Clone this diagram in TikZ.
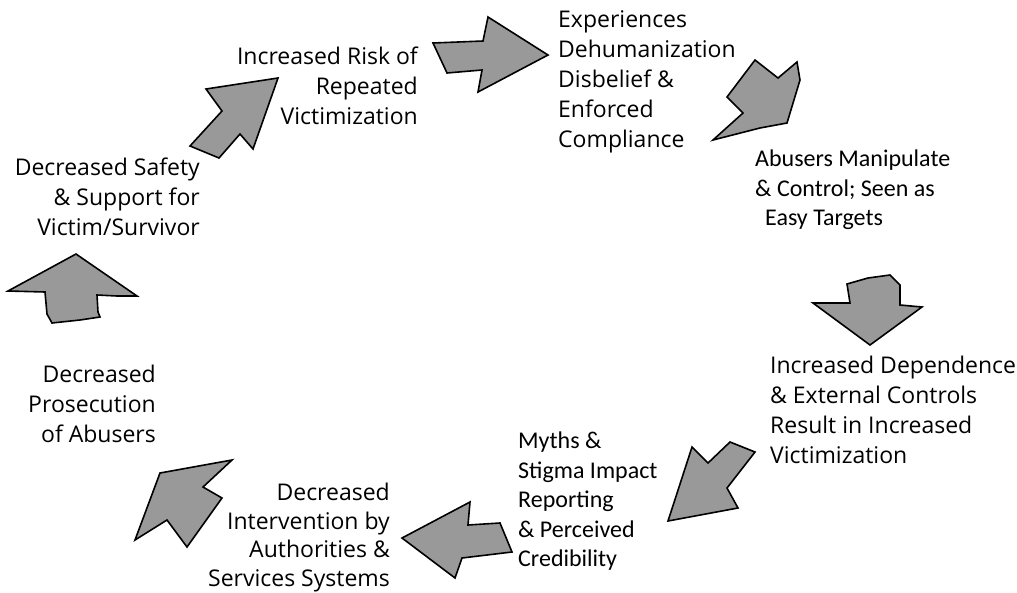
\documentclass[tikz,border=0pt]{standalone}
\usepackage{fontspec}
\setmainfont{Open Sans}
\newfontfamily\calib{Carlito}
\definecolor{arrgray}{RGB}{153,153,153}
\begin{document}
\begin{tikzpicture}[x=1pt,y=-1pt,
  arr/.style={draw=black, fill=arrgray, line width=1.6pt, line join=miter},
  lbl/.style={inner sep=0pt, font=\fontsize{23}{30}\selectfont},
  lblc/.style={inner sep=0pt, font=\calib\fontsize{24}{29.5}\selectfont}]
\useasboundingbox (0,0) rectangle (1017,592);
% arrows
\draw[arr] (278,78) -- (206,89) -- (222,111) -- (190,146) -- (219,158) -- (240,134) -- (253,149) -- cycle;
\draw[arr] (433,43) -- (483,41) -- (488,17) -- (548,55) -- (478,92) -- (482,70) -- (447,73) -- cycle;
\draw[arr] (713,140) -- (743,113) -- (727,97) -- (755,60) -- (778,78) -- (797,62) -- (800,80) -- (787,123) -- (760,128) -- cycle;
\draw[arr] (813,303) -- (850,303) -- (847,284) -- (868,278) -- (890,275) -- (900,285) -- (900,305) -- (922,307) -- (870,345) -- cycle;
\draw[arr] (692,447) -- (708,463) -- (730,442) -- (755,452) -- (727,488) -- (738,508) -- (668,521) -- cycle;
\draw[arr] (402,538) -- (470,502) -- (468,525) -- (500,523) -- (512,552) -- (462,558) -- (455,578) -- cycle;
\draw[arr] (160,473) -- (232,460) -- (203,487) -- (222,498) -- (187,547) -- (167,520) -- (135,540) -- cycle;
\draw[arr] (8,291) -- (76,254) -- (137,296) -- (117,296) -- (97,295) -- (98,312) -- (100,317) -- (80,320) -- (52,323) -- (47,314) -- (45,292) -- cycle;
% labels
\node[lbl, align=right, anchor=north east] (risk) at (418,47) {Increased Risk of\\Repeated\\Victimization};
\node[lbl, align=left, anchor=north west] (exp) at (558,10) {Experiences\\Dehumanization\\Disbelief \&\\Enforced\\Compliance};
\node[lblc, align=left, anchor=north west] (abu) at (755,150) {Abusers Manipulate\\\& Control; Seen as\\\hspace*{10pt}Easy Targets};
\node[lbl, align=left, anchor=north west] (dep) at (770,356) {Increased Dependence\\\& External Controls\\Result in Increased\\Victimization};
\node[lblc, align=left, anchor=north west] (myth) at (518,432) {Myths \&\\Stigma Impact\\Reporting\\\& Perceived\\Credibility};
\node[lbl, align=right, anchor=north east, font=\fontsize{23}{28.5}\selectfont] (int) at (390,483) {Decreased\\Intervention by\\Authorities \&\\Services Systems};
\node[lbl, align=right, anchor=north east] (pros) at (156,365) {Decreased\\Prosecution\\of Abusers};
\node[lbl, align=right, anchor=north east] (safe) at (200,158) {Decreased Safety\\\& Support for\\Victim/Survivor};
\end{tikzpicture}
\end{document}
